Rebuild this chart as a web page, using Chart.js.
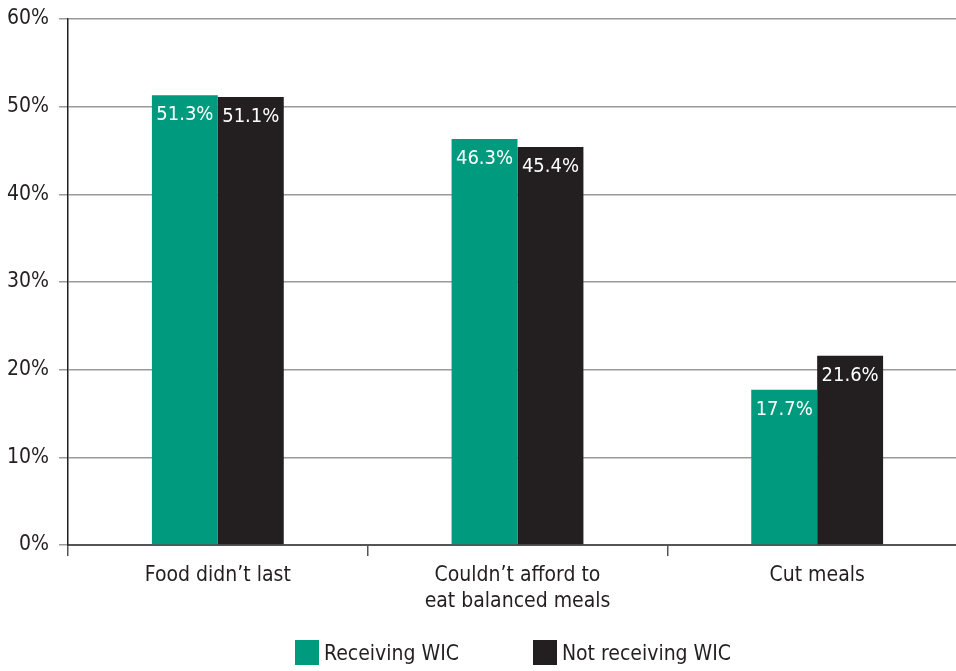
<!DOCTYPE html>
<html>
<head>
<meta charset="utf-8">
<script src="https://cdn.jsdelivr.net/npm/chart.js@4.4.1/dist/chart.umd.min.js"></script>
<style>
  html, body { margin: 0; padding: 0; background: #fff; overflow: hidden; }
  #wrap { position: relative; width: 956px; height: 671px; overflow: hidden; }
  #wicChart { position: absolute; left: 0; top: 0; }
  .legend { position: absolute; top: 640px; left: 295px; display: flex; align-items: center;
    font-family: "Liberation Sans Narrow", "DejaVu Sans Condensed", sans-serif; font-size: 21px; color: #231f20; }
  .legend .item { display: flex; align-items: center; margin-right: 74px; }
  .legend .box { width: 24px; height: 25px; margin-right: 5px; }
</style>
</head>
<body>
<div id="wrap">
  <canvas id="wicChart" width="967" height="671"></canvas>
  <div class="legend" id="legend"></div>
</div>
<script>
const FONT = '"Liberation Sans Narrow", "DejaVu Sans Condensed", sans-serif';
const INK = "#231f20";

// categories and series
const categories = [
    "Food didn\u2019t last",
    ["Couldn\u2019t afford to", "eat balanced meals"],
    "Cut meals"
];
const receivingWIC = [51.3, 46.3, 17.7];
const notReceivingWIC = [51.1, 45.4, 21.6];
const yTicks = [0, 10, 20, 30, 40, 50, 60];

const seriesNames = ["Receiving WIC", "Not receiving WIC"];
const seriesColors = ["#009b7e", "#231f20"];

// white value labels just inside the top of each bar
const barLabels = {
    id: "barLabels",
    afterDatasetsDraw(chart) {
        const ctx = chart.ctx;
        ctx.save();
        ctx.font = "20px " + FONT;
        ctx.fillStyle = "#ffffff";
        ctx.textAlign = "center";
        ctx.textBaseline = "top";
        chart.data.datasets.forEach((ds, i) => {
            chart.getDatasetMeta(i).data.forEach((bar, j) => {
                ctx.fillText(ds.data[j].toFixed(1) + "%", bar.x, bar.y + 10);
            });
        });
        ctx.restore();
    }
};

const ctx = document.getElementById("wicChart").getContext("2d");
new Chart(ctx, {
    type: "bar",
    data: {
        labels: categories,
        datasets: [
            { label: seriesNames[0], data: receivingWIC, backgroundColor: seriesColors[0] },
            { label: seriesNames[1], data: notReceivingWIC, backgroundColor: seriesColors[1] }
        ]
    },
    options: {
        responsive: false,
        devicePixelRatio: 1,
        animation: false,
        layout: { padding: { top: 19, right: 0, bottom: 0, left: 0 } },
        datasets: { bar: { categoryPercentage: 0.44, barPercentage: 1.0 } },
        plugins: {
            legend: { display: false },
            tooltip: { enabled: false }
        },
        scales: {
            x: {
                afterFit(scale) { scale.height = 126; },
                grid: {
                    offset: true,
                    drawOnChartArea: false,
                    drawTicks: true,
                    tickLength: 11,
                    color: "#555555",
                    lineWidth: 1.5
                },
                border: { color: "#555555", width: 2 },
                ticks: {
                    color: INK,
                    font: { family: FONT, size: 21, lineHeight: 1.25 },
                    padding: 6,
                    maxRotation: 0,
                    autoSkip: false
                }
            },
            y: {
                min: 0,
                max: 60,
                afterFit(scale) {
                    scale.width = 68;
                    scale.paddingTop = 0;
                    scale.paddingBottom = 0;
                },
                afterBuildTicks(scale) { scale.ticks = yTicks.map(v => ({ value: v })); },
                grid: {
                    color: "#9a9a9a",
                    lineWidth: 1.5,
                    tickLength: 9
                },
                border: { color: INK, width: 1.5 },
                ticks: {
                    color: INK,
                    font: { family: FONT, size: 21 },
                    padding: 10,
                    callback: v => v + "%"
                }
            }
        }
    },
    plugins: [barLabels]
});

// legend below the chart
const legend = document.getElementById("legend");
seriesNames.forEach((name, i) => {
    const item = document.createElement("div");
    item.className = "item";
    const box = document.createElement("span");
    box.className = "box";
    box.style.background = seriesColors[i];
    const text = document.createElement("span");
    text.textContent = name;
    item.appendChild(box);
    item.appendChild(text);
    legend.appendChild(item);
});
</script>
</body>
</html>
